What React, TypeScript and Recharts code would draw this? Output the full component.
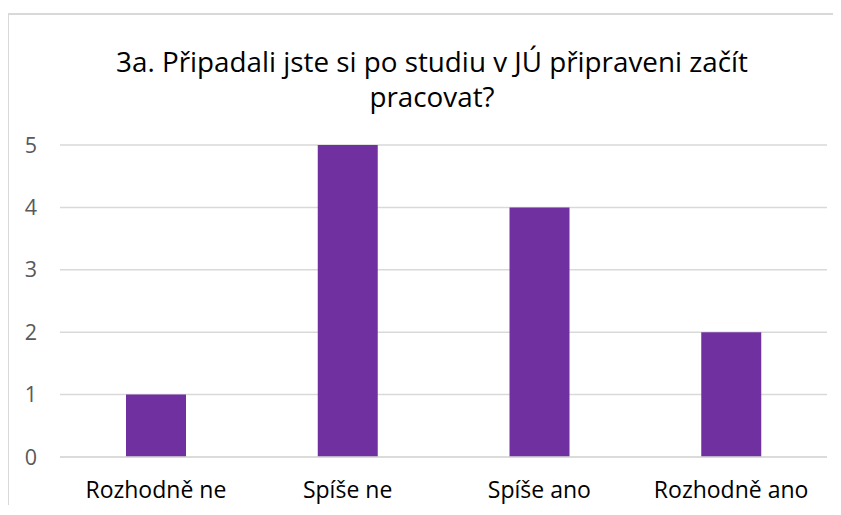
import React from 'react';
import { BarChart, Bar, XAxis, YAxis, CartesianGrid } from 'recharts';

const categories = ['Rozhodně ne', 'Spíše ne', 'Spíše ano', 'Rozhodně ano'];
const counts = [1, 5, 4, 2];
const yTicks = [0, 1, 2, 3, 4, 5];
const titleLines = ['3a. Připadali jste si po studiu v JÚ připraveni začít', 'pracovat?'];

const data = categories.map((name, i) => ({ name, value: counts[i] }));

const font = '"Open Sans", "Noto Sans", sans-serif';

const App: React.FC = () => {
  return (
    <div style={{ position: 'relative', width: 841, height: 515, margin: -8, background: '#fff', overflow: 'hidden', fontFamily: font }}>
      <div style={{ position: 'absolute', left: 0, top: 44, width: 864, textAlign: 'center', fontSize: 27.8, lineHeight: '35px', color: '#000' }}>
        {titleLines.map((l) => (
          <div key={l}>{l}</div>
        ))}
      </div>
      <div style={{ position: 'absolute', left: 0, top: 0 }}>
        <BarChart width={841} height={515} data={data} margin={{ top: 145, right: 14, left: 0, bottom: 0 }}>
          <CartesianGrid vertical={false} stroke="#D9D9D9" strokeWidth={1.5} />
          <XAxis
            dataKey="name"
            height={58}
            axisLine={{ stroke: '#D9D9D9', strokeWidth: 1.5 }}
            tickLine={false}
            tickSize={0}
            tickMargin={25}
            tick={{ fill: '#000', fontSize: 23, fontFamily: font }}
            interval={0}
          />
          <YAxis
            width={60}
            domain={[0, 5]}
            ticks={yTicks}
            axisLine={false}
            tickLine={false}
            tickSize={0}
            tickMargin={23}
            tick={{ fill: '#595959', fontSize: 21.5, fontFamily: font }}
          />
          <Bar dataKey="value" fill="#7030A0" barSize={60} isAnimationActive={false} />
        </BarChart>
      </div>
      {/* chart frame: only top and left edges fall inside the picture */}
      <div style={{ position: 'absolute', left: 7, top: 13, width: 834, height: 2, background: '#D9D9D9' }} />
      <div style={{ position: 'absolute', left: 7, top: 13, width: 2, height: 492, background: '#D9D9D9' }} />
    </div>
  );
};

export default App;
